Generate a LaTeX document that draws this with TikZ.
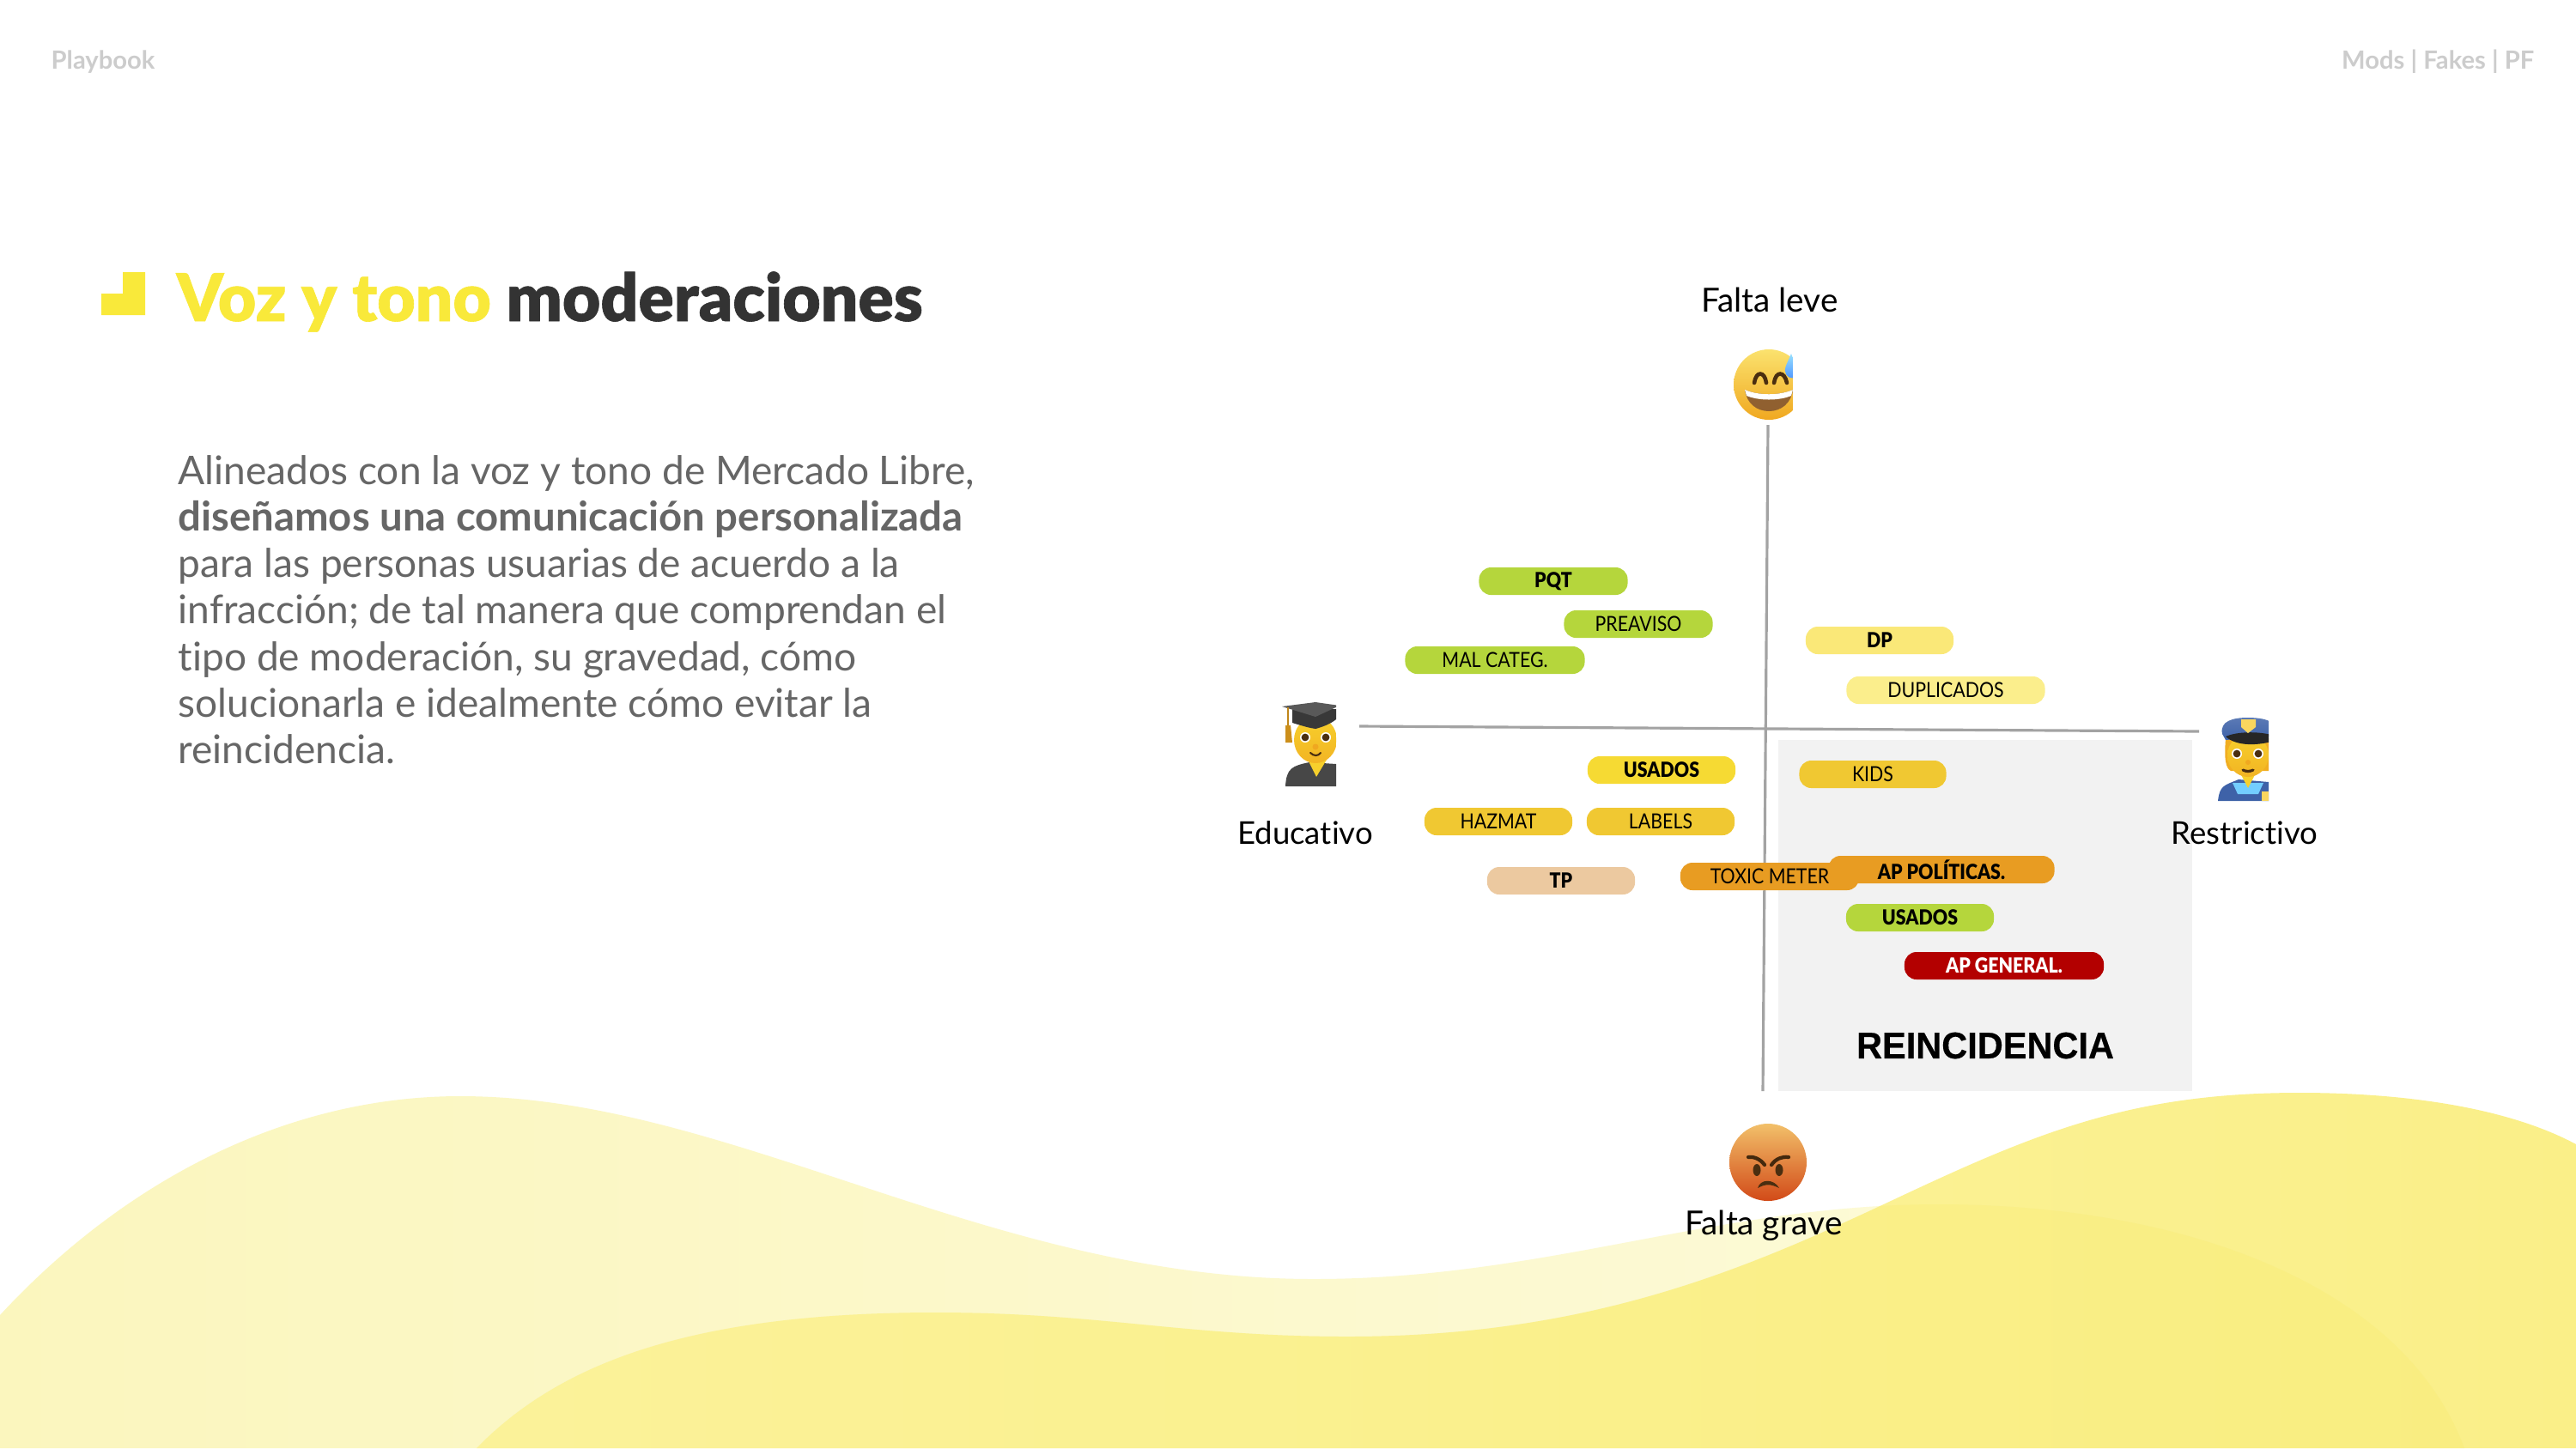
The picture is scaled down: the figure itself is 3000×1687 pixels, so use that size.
\documentclass[tikz,border=0pt]{standalone}
\usepackage{fontspec}
\setmainfont[Ligatures=NoCommon]{Lato}
\newfontfamily\heavyfont[FakeBold=0.8,Ligatures=NoCommon]{Lato Black}
\newfontfamily\pillfont[FakeStretch=0.88]{Lato}
\newfontfamily\pillheavy[FakeStretch=0.88]{Lato Black}
\newfontfamily\arialfont[BoldFeatures={FakeStretch=0.96,FakeBold=0.4}]{Liberation Sans}
\usetikzlibrary{arrows.meta,positioning}
\definecolor{lima}{HTML}{B5D63C}
\definecolor{palesol}{HTML}{FAE878}
\definecolor{palesolb}{HTML}{FBEE8C}
\definecolor{sol}{HTML}{F6DA33}
\definecolor{ocre}{HTML}{F0C832}
\definecolor{naranja}{HTML}{E89C22}
\definecolor{arena}{HTML}{ECC9A0}
\definecolor{rojo}{HTML}{B30000}
\definecolor{tituloam}{HTML}{F9E93A}
\definecolor{facetop}{HTML}{FBE26E}
\definecolor{facelow}{HTML}{F0A820}
\definecolor{skin}{HTML}{F7D02C}
\definecolor{darkeye}{HTML}{4A2E10}
\definecolor{policia}{HTML}{3E62A8}
\definecolor{wavea}{HTML}{FBF6BE}
\definecolor{waveb}{HTML}{FDFBDC}
\definecolor{wavec}{HTML}{FCF5A8}
\definecolor{waved}{HTML}{FAEF88}
\definecolor{wavee}{HTML}{F8E85A}
\definecolor{angrytop}{HTML}{F2C06A}
\definecolor{angrylow}{HTML}{D24A18}
\newcommand{\waveback}{(0,1687) -- (0,1532) .. controls (150,1370) and (340,1277) .. (536,1277) .. controls (850,1277) and (1150,1490) .. (1530,1490) .. controls (1800,1490) and (2000,1403) .. (2257,1403) .. controls (2550,1403) and (2800,1500) .. (2870,1687) -- cycle}
\newcommand{\wavefront}{(555,1687) .. controls (650,1590) and (800,1529) .. (1090,1529) .. controls (1280,1529) and (1380,1557) .. (1569,1557) .. controls (1850,1557) and (2030,1480) .. (2200,1400) .. controls (2370,1320) and (2480,1273) .. (2678,1273) .. controls (2800,1273) and (2920,1290) .. (3000,1333) -- (3000,1687) -- cycle}

\begin{document}
\begin{tikzpicture}[x=0.01cm,y=-0.01cm, pill/.style={rounded corners=0.14cm,minimum height=0.32cm,inner sep=0pt,font=\fontsize{6.9pt}{8pt}\selectfont\pillfont},
  pillb/.style={pill,font=\fontsize{6.9pt}{8pt}\selectfont\pillheavy}, axislabel/.style={font=\fontsize{10.4pt}{12pt}\selectfont,inner sep=0pt,text=black},
  axis/.style={draw=black!36,line width=0.9pt}, face/.style={top color=facetop,bottom color=facelow}, feature/.style={draw=darkeye,line width=1.3pt,line cap=round}]
\fill[white] (0,0) rectangle (3000,1687);
\useasboundingbox (0,0) rectangle (3000,1687);

\shade[left color=wavea,right color=waveb] \waveback;
\shade[left color=wavec,right color=waved] \wavefront;
\begin{scope}
\clip \wavefront;
\fill[wavee,opacity=0.18] \waveback;
\end{scope}

\node[anchor=west,inner sep=0pt,text=black!20,font=\fontsize{8.3pt}{10pt}\selectfont\bfseries] (playbook) at (59,72) {Playbook};
\node[anchor=east,inner sep=0pt,text=black!20,font=\fontsize{8.3pt}{10pt}\selectfont\bfseries] (mods) at (2952,72) {Mods | Fakes | PF};
\fill[tituloam] (143,317) -- (169,317) -- (169,367) -- (118,367) -- (118,342) -- (143,342) -- cycle;
\node[anchor=base west,inner sep=0pt,font=\fontsize{21.8pt}{24pt}\selectfont\heavyfont] (titulo) at (205,374) {\textcolor{tituloam}{Voz y tono} \textcolor{black!80}{moderaciones}};
\node[anchor=west,inner sep=0pt,align=left,text=black!60,font=\fontsize{13.1pt}{15.42pt}\selectfont] (cuerpo) at (207,710) {Alineados con la voz y tono de Mercado Libre,\\{\fontsize{13.45pt}{15.42pt}\selectfont\bfseries diseñamos una comunicación personalizada}\\para las personas usuarias de acuerdo a la\\infracción; de tal manera que comprendan el\\tipo de moderación, su gravedad, cómo\\solucionarla e idealmente cómo evitar la\\reincidencia.};

\fill[black!5] (2071,862) rectangle (2553,1271);
\coordinate (arriba) at (2059,495);
\coordinate (abajo) at (2053,1271);
\coordinate (izq) at (1583,846);
\coordinate (der) at (2561,852);
\draw[axis] (arriba)--(abajo);
\draw[axis] (izq)--(der);

\node[pillb,fill=lima,minimum width=1.73cm] (pqt) at (1809,677) {PQT};
\node[pill,fill=lima,minimum width=1.73cm] (preaviso) at (1908,727) {PREAVISO};
\node[pill,fill=lima,minimum width=2.09cm] (malcateg) at (1741,769) {MAL CATEG.};
\node[pillb,fill=palesol,minimum width=1.72cm] (dp) at (2189,746) {DP};
\node[pill,fill=palesolb,minimum width=2.31cm] (duplicados) at (2266,804) {DUPLICADOS};
\node[pillb,fill=sol,minimum width=1.72cm] (usadosa) at (1935,897) {USADOS};
\node[pill,fill=ocre,minimum width=1.71cm] (kids) at (2181,902) {KIDS};
\node[pill,fill=ocre,minimum width=1.72cm] (hazmat) at (1745,957) {HAZMAT};
\node[pill,fill=ocre,minimum width=1.72cm] (labels) at (1934,957) {LABELS};
\node[pillb,fill=arena,minimum width=1.72cm] (tp) at (1818,1026) {TP};
\node[pill,fill=naranja,minimum width=2.08cm] (toxic) at (2061,1021) {TOXIC METER};
\node[pillb,fill=naranja,minimum width=2.63cm] (appol) at (2261,1013) {AP POLÍTICAS.};
\node[pillb,fill=lima,minimum width=1.72cm] (usadosb) at (2236,1069) {USADOS};
\node[pillb,fill=rojo,text=white,minimum width=2.32cm] (apgen) at (2334,1125) {AP GENERAL.};
\node[inner sep=0pt,font=\fontsize{12.3pt}{14pt}\selectfont\arialfont\bfseries] (reinc) at (2312,1218) {REINCIDENCIA};

\node[axislabel,font=\fontsize{11pt}{12pt}\selectfont] (leve) at (2061,349) {Falta leve};
\node[axislabel] (educ) at (1520,970) {Educativo};
\node[axislabel] (restr) at (2614,970) {Restrictivo};
\node[axislabel,font=\fontsize{11pt}{12pt}\selectfont] (grave) at (2054,1428) {Falta grave};

\begin{scope}
\clip (2000,395) rectangle (2087.5,500);
\shade[face] (2060,448) circle[radius=41];
\fill[brown!75!black] (2032,454) .. controls (2048,461) and (2072,461) .. (2088,454) .. controls (2086,470) and (2074,479) .. (2060,479) .. controls (2046,479) and (2034,470) .. (2032,454) -- cycle;
\fill[white] (2032,454) .. controls (2048,461) and (2072,461) .. (2088,454) -- (2086,461) .. controls (2072,467) and (2048,467) .. (2034,461) -- cycle;
\draw[feature] (2043,446) .. controls (2045,432) and (2055,432) .. (2057,446);
\draw[feature] (2066,446) .. controls (2068,432) and (2078,432) .. (2081,446);
\shade[top color=blue!30!cyan!40,bottom color=blue!60!cyan!70] (2086,412) .. controls (2080,426) and (2077,430) .. (2080,436) .. controls (2083,442) and (2092,442) .. (2095,436) -- cycle;
\end{scope}

\begin{scope}
\clip (1470,810) rectangle (1556,916);
\fill[black!72] (1497,916) .. controls (1498,895) and (1505,892) .. (1525,888) -- (1556,890) -- (1556,916) -- cycle;
\fill[skin] (1523,885) -- (1533,905) -- (1545,885) -- cycle;
\shade[top color=skin,bottom color=facelow!70!skin] (1532,862) ellipse[x radius=25,y radius=27];
\fill[black!78] (1505,826) -- (1505,842) .. controls (1518,846) and (1525,848) .. (1532,849) .. controls (1540,847) and (1550,843) .. (1556,838) -- (1556,826) -- cycle;
\fill[black!65] (1493,823) -- (1532,818) -- (1560,822) -- (1532,835) -- cycle;
\draw[facelow!80!black,line width=0.5pt] (1500,824) -- (1500,845);
\fill[facelow!85!black] (1497,845) -- (1503,845) -- (1505,865) -- (1497,865) -- cycle;
\fill[white] (1520,859) circle[radius=6] (1544,859) circle[radius=6];
\fill[darkeye] (1520,859) circle[radius=4.4] (1544,859) circle[radius=4.4];
\fill[facelow] (1532,870) circle[radius=3.5];
\draw[darkeye,line width=0.6pt,line cap=round] (1526,877) .. controls (1530,881) and (1535,881) .. (1538,877);
\end{scope}

\begin{scope}
\clip (2560,825) rectangle (2642,935);
\fill[policia] (2583,933) .. controls (2585,915) and (2590,915) .. (2607,908) -- (2642,911) -- (2642,933) -- cycle;
\fill[blue!35!cyan!55] (2600,912) -- (2636,912) -- (2630,925) -- (2606,925) -- cycle;
\fill[facelow!85!skin] (2592,860) .. controls (2590,885) and (2592,895) .. (2598,898) -- (2642,898) -- (2642,860) -- cycle;
\fill[skin] (2606,895) -- (2630,895) -- (2618,918) -- cycle;
\shade[top color=skin,bottom color=facelow!70!skin] (2618,880) ellipse[x radius=24,y radius=25];
\shade[top color=policia!85!white,bottom color=policia] (2588,855) .. controls (2585,840) and (2600,836) .. (2618,836) .. controls (2630,836) and (2642,838) .. (2645,842) -- (2645,858) -- (2592,862) -- cycle;
\fill[black!85] (2592,858) .. controls (2605,852) and (2630,852) .. (2645,856) -- (2645,864) .. controls (2630,868) and (2605,870) .. (2592,858) -- cycle;
\fill[facetop!80!facelow] (2610,838) -- (2627,838) -- (2627,847) -- (2618,854) -- (2610,847) -- cycle;
\fill[white] (2605,878) circle[radius=6] (2630,878) circle[radius=6];
\fill[darkeye] (2605,878) circle[radius=4.4] (2630,878) circle[radius=4.4];
\fill[facelow] (2618,888) circle[radius=3];
\draw[darkeye,line width=0.9pt,line cap=round] (2612,897) .. controls (2616,899) and (2620,899) .. (2624,897);
\fill[facetop!80!facelow] (2634,922) rectangle (2642,933);
\end{scope}

\shade[top color=angrytop,bottom color=angrylow] (2059,1354) circle[radius=45];
\draw[feature,draw=darkeye!90!black,line width=1.2pt] (2036,1348) .. controls (2042,1347) and (2050,1350) .. (2055,1357);
\draw[feature,draw=darkeye!90!black,line width=1.2pt] (2083,1348) .. controls (2075,1347) and (2068,1350) .. (2063,1357);
\fill[darkeye] (2046,1363) ellipse[x radius=4.5,y radius=7] (2072,1363) ellipse[x radius=4.5,y radius=7];
\fill[darkeye] (2047,1384) .. controls (2050,1373) and (2066,1373) .. (2072,1384) .. controls (2062,1379) and (2056,1379) .. (2047,1384) -- cycle;
\end{tikzpicture}
\end{document}
